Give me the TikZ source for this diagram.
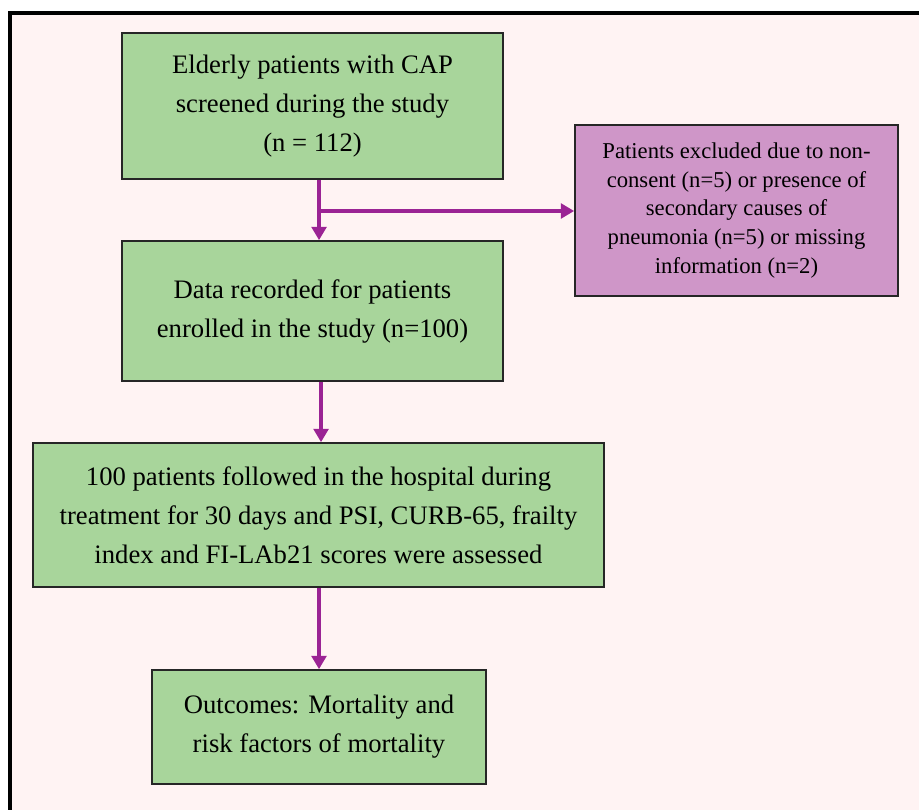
\documentclass[tikz,border=0pt]{standalone}
\usepackage{fontspec}
\setmainfont{Liberation Serif}
\usepackage{xcolor}
\usepackage{tikz}
\usetikzlibrary{arrows.meta}
\usetikzlibrary{positioning}

\definecolor{bgpink}{HTML}{FFF3F3}
\definecolor{boxgreen}{HTML}{A8D59B}
\definecolor{boxmauve}{HTML}{CF96C8}
\definecolor{flowpurple}{HTML}{9B2394}

\begin{document}
\begin{tikzpicture}[x=0.75pt, y=-0.75pt, >={Triangle[length=10pt, width=11pt]},
	stage/.style={rectangle, draw=black!85, fill=boxgreen, line width=1.2pt,
				align=center, inner sep=0pt,
				font=\fontsize{20}{29.25}\selectfont},
	drop/.style={rectangle, draw=black!85, fill=boxmauve, line width=1.2pt,
				align=center, inner sep=0pt,
				font=\fontsize{17}{21.4}\selectfont},
	flow/.style={->, draw=flowpurple, line width=2.7pt},
]
\useasboundingbox (0,0) rectangle (919,809);
\clip (0,0) rectangle (919,809);
\fill [bgpink] (9.5,13) rectangle (930,820);
\draw [line width=3pt] (930,13) -- (9.5,13) -- (9.5,820);
%
\node [stage, minimum width=285.75pt, minimum height=109.5pt] (screen) at (312.5,106)
	{Elderly patients with CAP\\screened during the study\\(n = 112)};
\node [stage, minimum width=285.75pt, minimum height=105pt] (enrol) at (312.5,311)
	{Data recorded for patients\\enrolled in the study (n=100)};
\node [stage, minimum width=428.25pt, minimum height=108pt] (follow) at (318.5,515)
	{100 patients followed in the hospital during\\treatment for 30 days and PSI, CURB-65, frailty\\index and FI-LAb21 scores were assessed};
\node [stage, minimum width=250.5pt, minimum height=85.5pt] (outcome) at (319,727)
	{Outcomes: Mortality and\\risk factors of mortality};
\node [drop, minimum width=242.25pt, minimum height=128.25pt] (excl) at (736.5,210.5)
	{Patients excluded due to non-\\consent (n=5) or presence of\\secondary causes of\\pneumonia (n=5) or missing\\information (n=2)};
\coordinate (split) at (319,211);
%
\draw [flow] ([xshift=4.9pt]screen.south) -- ([xshift=4.9pt]enrol.north);
\draw [flow] (split) -- (split -| excl.west);
\draw [flow] ([xshift=6.4pt]enrol.south) -- ([xshift=6.4pt]enrol.south |- follow.north);
\draw [flow] (outcome.north |- follow.south) -- (outcome.north);
\end{tikzpicture}
\end{document}
